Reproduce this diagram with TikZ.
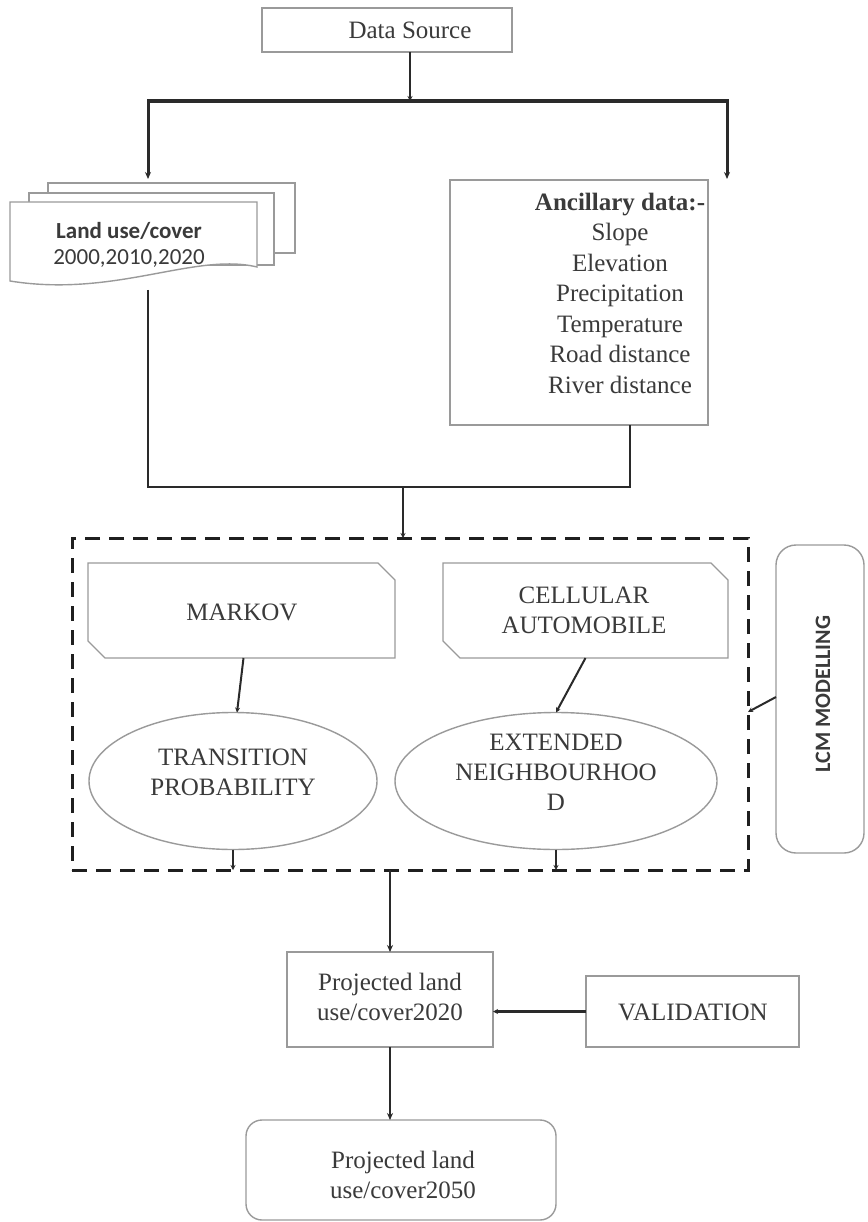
\documentclass[tikz,border=0pt]{standalone}
\usepackage{fontspec}
\setmainfont{Liberation Serif}
\newfontfamily\calfont{Carlito}
\usetikzlibrary{arrows.meta,calc,shapes.geometric}
\definecolor{boxgray}{HTML}{9A9A9A}
\definecolor{txtgray}{HTML}{3A3A3A}
\definecolor{lingray}{HTML}{2A2A2A}
\begin{document}
\begin{tikzpicture}[x=1pt,y=-1pt,
  box/.style={draw=boxgray,line width=1.4pt,fill=white},
  blank/.style={inner sep=0pt,outer sep=0pt},
  txt/.style={font=\fontsize{25}{30}\selectfont,text=txtgray,align=center,inner sep=0pt},
  caltxt/.style={font=\calfont\fontsize{23}{26}\selectfont,text=txtgray,align=center,inner sep=0pt},
  conn/.style={draw=lingray,line width=2.6pt},
  arr/.style={conn,-{Stealth[length=7pt,width=6pt]}},
  sarr/.style={conn,-{Stealth[length=5pt,width=5pt]}},
]
\useasboundingbox (0,0) rectangle (867,1222);
\fill[white] (0,0) rectangle (867,1222);

% Data source
\node[box,blank,minimum width=250pt,minimum height=44pt] (ds) at (387,30) {};
\node[txt] (dst) at (410,30) {Data Source};

\coordinate (j1) at (410,101);
\coordinate (jl) at (148,101);
\coordinate (jr) at (727,101);
\coordinate (lutop) at (148,179);
\coordinate (anctop) at (727,179);
\draw[sarr] (ds.south -| j1) -- (j1);
\draw[conn,line width=3.2pt] (jl) -- (jr);
\draw[arr,line width=3pt] ([yshift=1.5pt]jl) -- (lutop);
\draw[arr,line width=3pt] ([yshift=1.5pt]jr) -- (anctop);

% Land use stack
\node[box,blank,minimum width=247pt,minimum height=70pt] (luback) at (171.5,218) {};
\node[box,blank,minimum width=245pt,minimum height=72pt] (lumid) at (151.5,229) {};
\coordinate (lufa) at (10,202);
\coordinate (lufb) at (257,202);
\coordinate (lufc) at (257,267);
\coordinate (lufd) at (10,281);
\draw[box] (lufa) -- (lufb) -- (lufc) .. controls (195,252) and (115,298) .. (lufd) -- cycle;
\node[caltxt] (lut) at (129,245) {\textbf{Land use/cover}\\2000,2010,2020};

% Ancillary
\node[box,blank,minimum width=258pt,minimum height=245pt] (anc) at (579,302.5) {};
\node[txt,font=\fontsize{25}{30.5}\selectfont] (anct) at (620,293) {\textbf{Ancillary data:-}\\Slope\\Elevation\\Precipitation\\Temperature\\Road distance\\River distance};

% merge
\coordinate (lub) at (148,290);
\coordinate (jbl) at (148,487);
\coordinate (jbr) at (630,487);
\coordinate (jbm) at (403,487);
\draw[conn,line join=miter] (lub) -- (jbl) -- (jbr) -- (anc.south -| jbr);

% dashed frame
\node[draw=black!88,line width=3pt,dash pattern=on 15pt off 9pt,blank,minimum width=676pt,minimum height=332pt] (dash) at (410,704) {};
\draw[sarr] (jbm) -- (jbm |- dash.north);

% Markov
\node[blank,minimum width=307pt,minimum height=95pt] (mk) at (241.5,610.5) {};
\draw[box] (mk.north west) -- ($(mk.north east)+(-17,0)$) -- ($(mk.north east)+(0,17)$) -- (mk.south east) -- ($(mk.south west)+(17,0)$) -- ($(mk.south west)+(0,-17)$) -- cycle;
\node[txt] (mkt) at (242,612) {MARKOV};

% Cellular
\node[blank,minimum width=285pt,minimum height=95pt] (ca) at (585.5,610.5) {};
\draw[box] (ca.north west) -- ($(ca.north east)+(-17,0)$) -- ($(ca.north east)+(0,17)$) -- (ca.south east) -- ($(ca.south west)+(17,0)$) -- ($(ca.south west)+(0,-17)$) -- cycle;
\node[txt] (cat) at (584,610) {CELLULAR\\AUTOMOBILE};

% ellipses
\node[box,ellipse,blank,minimum width=288pt,minimum height=137pt] (tp) at (233,781) {};
\node[txt] (tpt) at (233,772) {TRANSITION\\PROBABILITY};
\node[box,ellipse,blank,minimum width=322pt,minimum height=137pt] (en) at (556,781) {};
\node[txt] (ent) at (556,772) {EXTENDED\\NEIGHBOURHOO\\D};

\draw[sarr,line width=2pt] ($(mk.south)+(2,0)$) -- ($(tp.north)+(4,0)$);
\draw[sarr,line width=2pt] (ca.south) -- (en.north);
\draw[sarr,line width=1.8pt] (tp.south) -- (tp.south |- dash.south);
\draw[sarr,line width=1.8pt] (en.south) -- (en.south |- dash.south);

% LCM modelling
\node[box,blank,rounded corners=20pt,minimum width=88pt,minimum height=308pt] (lcm) at (820,699) {};
\node[font=\calfont\bfseries\fontsize{22}{26}\selectfont,text=txtgray,rotate=90,inner sep=0pt] (lcmt) at (823,694) {LCM MODELLING};
\draw[sarr,line width=2pt] ($(lcm.west)+(0,-2)$) -- ($(dash.east)+(0,8)$);

% Projected 2020
\node[box,blank,minimum width=206pt,minimum height=95pt] (p20) at (390,999.5) {};
\node[txt] (p20t) at (390,996.5) {Projected land\\use/cover2020};
\draw[arr] (dash.south -| p20) -- (p20.north);

% Validation
\node[box,blank,minimum width=213pt,minimum height=71pt] (val) at (692.5,1011.5) {};
\node[txt] (valt) at (693,1012) {VALIDATION};
\draw[sarr] (val.west) -- (val.west -| p20.east);

% Final
\node[box,blank,rounded corners=16pt,minimum width=310pt,minimum height=100pt] (fin) at (401,1170) {};
\node[txt] (fint) at (403,1175) {Projected land\\use/cover2050};
\draw[arr] (p20.south) -- (p20.south |- fin.north);
\end{tikzpicture}
\end{document}
